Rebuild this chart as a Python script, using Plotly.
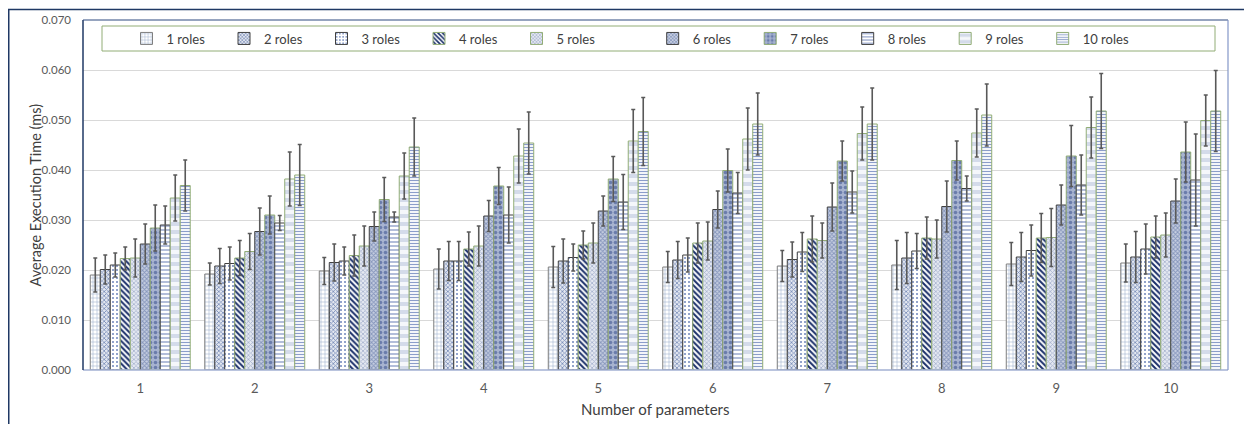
import plotly.graph_objects as go

categories = ["1", "2", "3", "4", "5", "6", "7", "8", "9", "10"]
series_names = ["1 roles", "2 roles", "3 roles", "4 roles", "5 roles",
                "6 roles", "7 roles", "8 roles", "9 roles", "10 roles"]

# mean values per series (one value per number of parameters)
roles_1 = [0.0190, 0.0192, 0.0198, 0.0202, 0.0206, 0.0206, 0.0208, 0.0210, 0.0212, 0.0214]
roles_2 = [0.0201, 0.0208, 0.0215, 0.0218, 0.0218, 0.0220, 0.0221, 0.0224, 0.0226, 0.0226]
roles_3 = [0.0210, 0.0213, 0.0218, 0.0218, 0.0225, 0.0230, 0.0236, 0.0238, 0.0239, 0.0242]
roles_4 = [0.0223, 0.0224, 0.0229, 0.0242, 0.0250, 0.0254, 0.0262, 0.0264, 0.0264, 0.0266]
roles_5 = [0.0224, 0.0237, 0.0248, 0.0248, 0.0254, 0.0258, 0.0259, 0.0262, 0.0265, 0.0270]
roles_6 = [0.0252, 0.0277, 0.0287, 0.0308, 0.0318, 0.0321, 0.0326, 0.0327, 0.0330, 0.0338]
roles_7 = [0.0284, 0.0310, 0.0341, 0.0368, 0.0382, 0.0399, 0.0418, 0.0419, 0.0428, 0.0436]
roles_8 = [0.0290, 0.0294, 0.0306, 0.0310, 0.0336, 0.0354, 0.0356, 0.0363, 0.0370, 0.0380]
roles_9 = [0.0344, 0.0382, 0.0388, 0.0428, 0.0458, 0.0462, 0.0473, 0.0474, 0.0485, 0.0499]
roles_10 = [0.0369, 0.0390, 0.0446, 0.0454, 0.0477, 0.0492, 0.0492, 0.0510, 0.0518, 0.0518]

# error (standard deviation) per series
err_1 = [0.0034, 0.0022, 0.0027, 0.0040, 0.0041, 0.0031, 0.0031, 0.0049, 0.0043, 0.0038]
err_2 = [0.0029, 0.0035, 0.0037, 0.0039, 0.0044, 0.0037, 0.0035, 0.0051, 0.0049, 0.0051]
err_3 = [0.0024, 0.0033, 0.0028, 0.0039, 0.0027, 0.0034, 0.0039, 0.0035, 0.0051, 0.0050]
err_4 = [0.0023, 0.0035, 0.0041, 0.0034, 0.0028, 0.0040, 0.0046, 0.0042, 0.0049, 0.0042]
err_5 = [0.0038, 0.0036, 0.0040, 0.0040, 0.0040, 0.0038, 0.0035, 0.0038, 0.0058, 0.0044]
err_6 = [0.0040, 0.0047, 0.0029, 0.0031, 0.0030, 0.0037, 0.0048, 0.0051, 0.0040, 0.0044]
err_7 = [0.0046, 0.0038, 0.0044, 0.0037, 0.0045, 0.0043, 0.0040, 0.0039, 0.0061, 0.0060]
err_8 = [0.0038, 0.0015, 0.0010, 0.0056, 0.0055, 0.0041, 0.0042, 0.0025, 0.0060, 0.0092]
err_9 = [0.0046, 0.0054, 0.0046, 0.0054, 0.0063, 0.0062, 0.0053, 0.0048, 0.0061, 0.0051]
err_10 = [0.0051, 0.0061, 0.0058, 0.0062, 0.0068, 0.0062, 0.0072, 0.0062, 0.0075, 0.0081]

values = [roles_1, roles_2, roles_3, roles_4, roles_5, roles_6, roles_7, roles_8, roles_9, roles_10]
errors = [err_1, err_2, err_3, err_4, err_5, err_6, err_7, err_8, err_9, err_10]

y_ticks = [0.0, 0.01, 0.02, 0.03, 0.04, 0.05, 0.06, 0.07]
x_title = "Number of parameters"
y_title = "Average Execution Time (ms)"

GREEN = "#92ad76"
DARK = "#404040"
styles = [
    dict(shape="+", fg="#9aaacb", bg="white", size=4, sol=0.25, line="#7f7f7f"),
    dict(shape="x", fg="#7689b6", bg="#e3e7f0", size=3, sol=0.45, line=DARK),
    dict(shape=".", fg="#6f86bb", bg="white", size=4, sol=0.2, line=DARK),
    dict(shape="\\", fg="#1a2f6a", bg="white", size=4, sol=0.5, line=GREEN),
    dict(shape="x", fg="#a5b1cd", bg="#e4e8f1", size=3, sol=0.45, line=GREEN),
    dict(shape="x", fg="#8595bc", bg="#c6cee0", size=3, sol=0.5, line=DARK),
    dict(shape=".", fg="#6a7cab", bg="#a7b3d0", size=5, sol=0.4, line=GREEN),
    dict(shape="-", fg="#7f92c2", bg="white", size=4, sol=0.3, line=DARK),
    dict(shape="-", fg="#d4dbea", bg="#f5f7fb", size=8, sol=0.5, line=GREEN),
    dict(shape="-", fg="#8b9dca", bg="white", size=3, sol=0.4, line=GREEN),
]

fig = go.Figure()
for i, (name, vals, errs, st) in enumerate(zip(series_names, values, errors, styles)):
    fig.add_trace(go.Bar(
        name=name, x=categories, y=vals,
        legend="legend" if i < 5 else "legend2",
        marker=dict(
            color=st["fg"],
            line=dict(color=st["line"], width=1),
            pattern=dict(shape=st["shape"], fgcolor=st["fg"], bgcolor=st["bg"],
                         size=st["size"], solidity=st["sol"], fgopacity=1),
        ),
        error_y=dict(type="data", array=errs, visible=True,
                     color="#595959", thickness=1.6, width=2),
    ))

FONT = "Lato, 'Open Sans', sans-serif"
# the page body adds an 8px offset, so the figure is 1244x416 placed at (8, 8)
W, H = 1244, 416
L, R, T, B = 75, 24, 12, 54
PW = W - L - R   # 1145
PH = H - T - B   # 350


def px_x(x):  # screen x -> paper
    return (x - 8 - L) / PW


def px_y(y):  # screen y -> paper
    return (H - B - (y - 8)) / PH


legend_common = dict(orientation="h", yanchor="middle", y=px_y(38.5),
                     entrywidth=52.5, entrywidthmode="pixels",
                     bgcolor="rgba(0,0,0,0)", borderwidth=0,
                     font=dict(family=FONT, size=13, color="#404040"),
                     traceorder="normal", xanchor="left")

fig.update_layout(
    width=W, height=H,
    margin=dict(l=L, r=R, t=T, b=B, autoexpand=False),
    paper_bgcolor="white", plot_bgcolor="white",
    barmode="group", bargap=0.127, bargroupgap=0,
    font=dict(family=FONT, size=12, color="#595959"),
    showlegend=True,
    legend=dict(x=px_x(126.5), **legend_common),
    legend2=dict(x=px_x(652.7), **legend_common),
    xaxis=dict(showgrid=False, ticks="", showline=False, ticklabelstandoff=9,
               automargin=False, tickfont=dict(size=13, color="#595959")),
    yaxis=dict(range=[0, 0.07], tickvals=y_ticks, tickformat=".3f",
               showgrid=True, gridcolor="#d9d9d9", gridwidth=1, zeroline=False,
               showline=False, ticks="", ticklabelstandoff=11, automargin=False,
               tickfont=dict(size=11.5, color="#595959")),
    annotations=[
        dict(text=y_title, xref="paper", yref="paper", x=px_x(34.5), y=0.5,
             xanchor="center", yanchor="middle", textangle=-90, showarrow=False,
             font=dict(family=FONT, size=14.5, color="#404040")),
        dict(text=x_title, xref="paper", yref="paper", x=0.5, y=px_y(409),
             xanchor="center", yanchor="middle", showarrow=False,
             font=dict(family=FONT, size=15, color="#404040")),
    ],
    shapes=[
        # legend box
        dict(type="rect", xref="paper", yref="paper", x0=px_x(102), x1=px_x(1215),
             y0=px_y(51), y1=px_y(26),
             line=dict(color=GREEN, width=1), fillcolor="white", layer="below"),
        # plot area borders
        dict(type="line", xref="paper", yref="paper", x0=0, x1=1, y0=0, y1=0,
             line=dict(color="#a3b1d3", width=1.5), layer="above"),
        dict(type="line", xref="paper", yref="paper", x0=0, x1=0, y0=0, y1=1,
             line=dict(color="#1f3864", width=1.5), layer="above"),
        dict(type="line", xref="paper", yref="paper", x0=0, x1=1, y0=1, y1=1,
             line=dict(color="#2f4a80", width=1.2), layer="above"),
        dict(type="line", xref="paper", yref="paper", x0=1, x1=1, y0=0, y1=1,
             line=dict(color="#8497c8", width=1.2), layer="above"),
        # outer frame
        dict(type="rect", xref="paper", yref="paper",
             x0=px_x(8.75), x1=px_x(1246), y0=px_y(440), y1=px_y(9.5),
             line=dict(color="#1f3864", width=1.5), fillcolor="rgba(0,0,0,0)", layer="above"),
    ],
)

fig.write_html("out.html")
